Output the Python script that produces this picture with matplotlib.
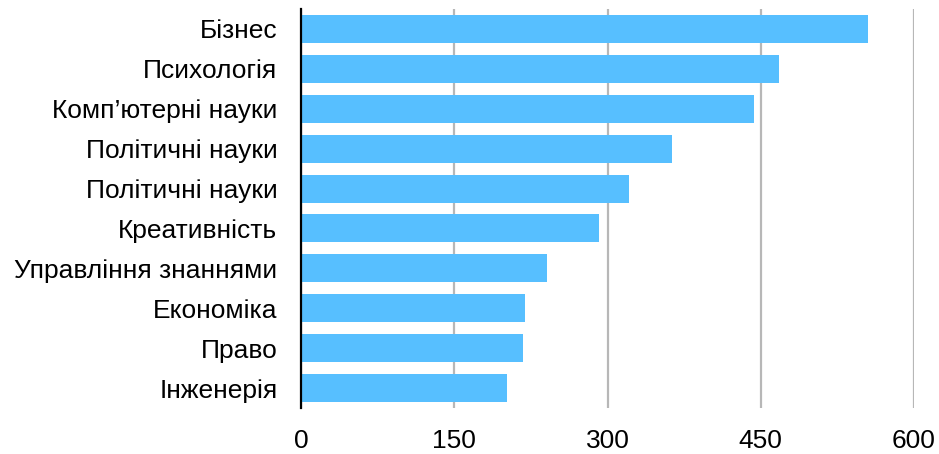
import matplotlib
matplotlib.use("Agg")
import matplotlib.pyplot as plt

categories = ["Бізнес", "Психологія", "Комп’ютерні науки", "Політичні науки",
              "Політичні науки", "Креативність", "Управління знаннями",
              "Економіка", "Право", "Інженерія"]
values = [555, 468, 443, 363, 321, 292, 241, 219, 217, 202]
xticks = [0, 150, 300, 450, 600]

plt.rcParams['font.family'] = ['Liberation Sans', 'DejaVu Sans']

fig = plt.figure(figsize=(9.39, 4.54), dpi=100)
ax = fig.add_axes([301/939, 1 - 408/454, (914 - 301)/939, (408 - 9)/454])

pos = list(range(len(categories)))
ax.barh(pos, values, height=0.7, color="#57BFFF", zorder=3)
ax.set_yticks(pos)
ax.set_yticklabels(categories, fontsize=19)
ax.set_ylim(len(categories) - 0.5, -0.5)
ax.set_xlim(0, 600)
ax.set_xticks(xticks)
ax.set_xticklabels([str(t) for t in xticks], fontsize=19)
ax.tick_params(axis='y', length=0, pad=17)
ax.tick_params(axis='x', length=0, pad=15)
ax.grid(axis='x', color="#b7b7b7", linewidth=1.6, zorder=1)
ax.set_axisbelow(True)
for s in ['top', 'right', 'bottom']:
    ax.spines[s].set_visible(False)
ax.spines['left'].set_linewidth(1.6)
ax.spines['left'].set_color('black')
ax.spines['left'].set_zorder(4)

fig.savefig("out.png", dpi=100)
